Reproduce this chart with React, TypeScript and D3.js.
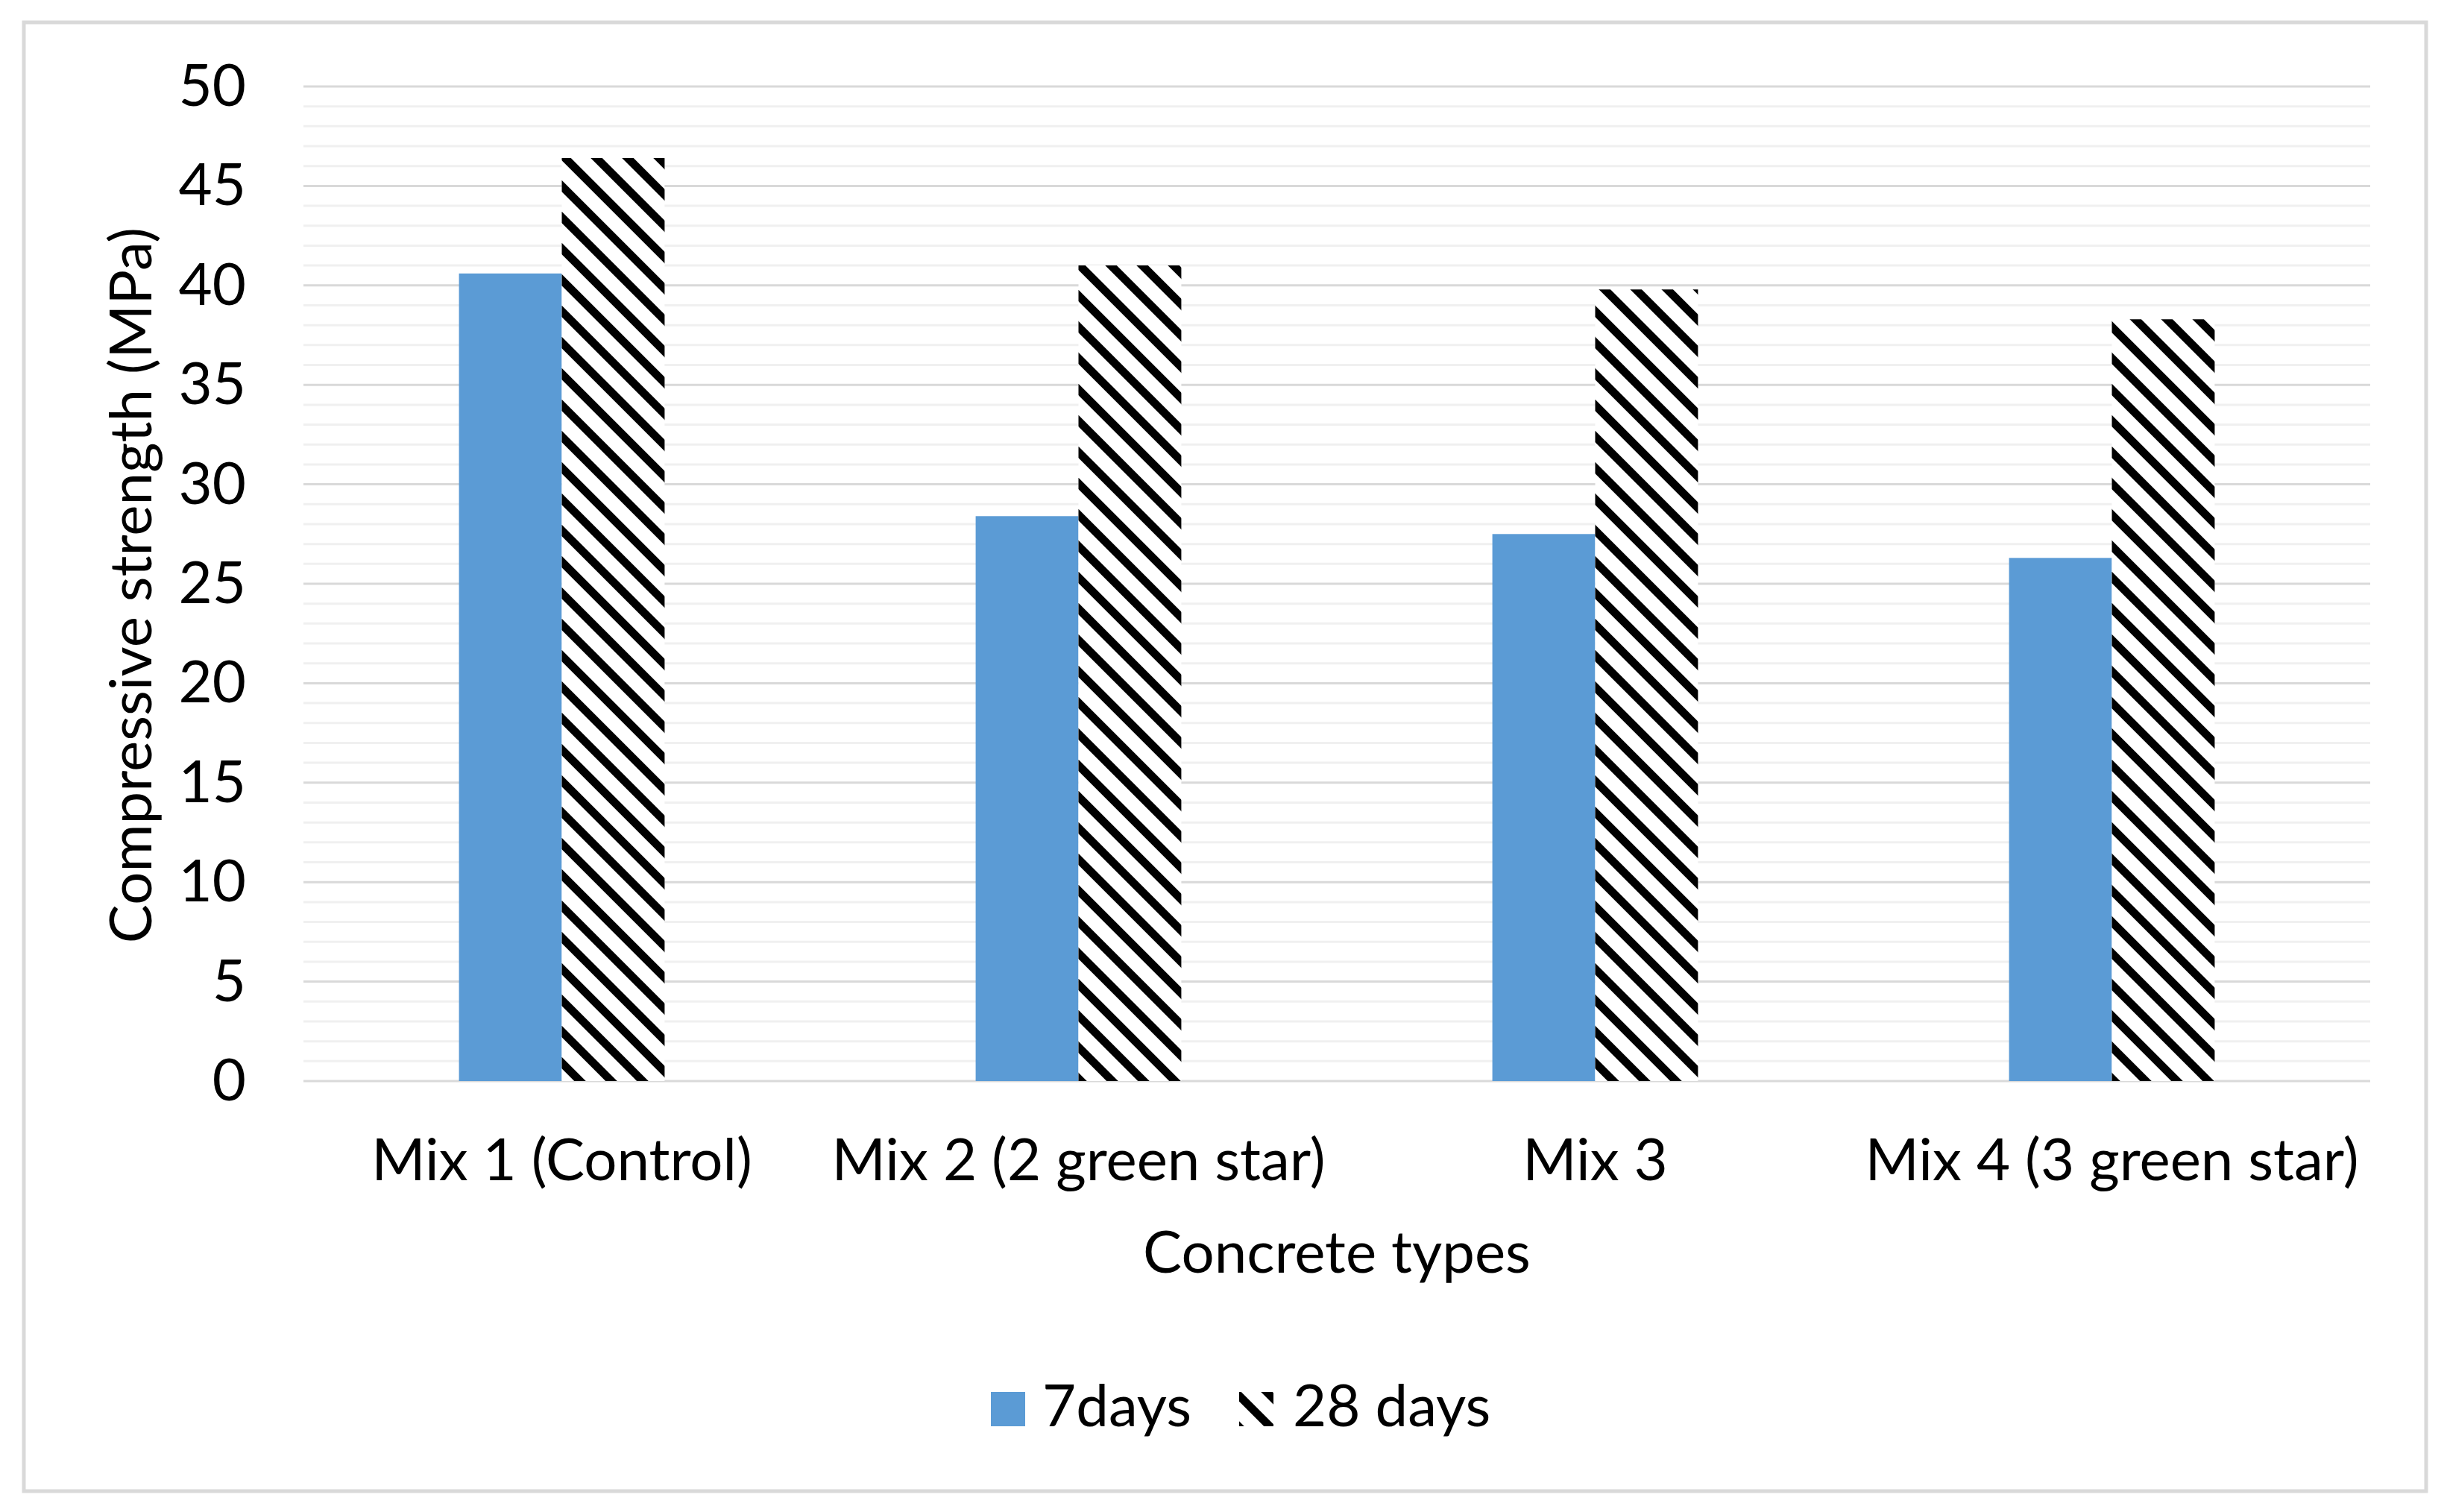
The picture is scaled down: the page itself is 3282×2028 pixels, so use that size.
import React from "react";
import * as d3 from "d3";

const categories = ["Mix 1 (Control)", "Mix 2 (2 green star)", "Mix 3", "Mix 4 (3 green star)"];
const seriesNames = ["7days", "28 days"];
const values7days = [40.6, 28.4, 27.5, 26.3];
const values28days = [46.4, 41.0, 39.8, 38.3];
const yMajorTicks = [0, 5, 10, 15, 20, 25, 30, 35, 40, 45, 50];
const yTitle = "Compressive strength (MPa)";
const xTitle = "Concrete types";

const W = 3282;
const H = 2028;
const FONT = "Lato, 'Open Sans', sans-serif";
const FS = 78;
const BLUE = "#5b9bd5";
const PERIOD = 42;
const STRIPE = 11;

function Hatch({ id, x, y, w, h }: { id: string; x: number; y: number; w: number; h: number }) {
  // diagonal stripes x - y = k * PERIOD, clipped to the rectangle
  const cMin = Math.floor((x - (y + h)) / PERIOD) - 1;
  const cMax = Math.ceil((x + w - y) / PERIOD) + 1;
  const ks = d3.range(cMin, cMax + 1);
  const y0 = y - 20;
  const y1 = y + h + 20;
  return (
    <g>
      <clipPath id={id}>
        <rect x={x} y={y} width={w} height={h} />
      </clipPath>
      <rect x={x} y={y} width={w} height={h} fill="#fff" />
      <g clipPath={`url(#${id})`}>
        {ks.map((k) => {
          const c = k * PERIOD;
          return <line key={k} x1={c + y0} y1={y0} x2={c + y1} y2={y1} stroke="#000" strokeWidth={STRIPE} />;
        })}
      </g>
    </g>
  );
}

export default function App() {
  const x0 = d3.scaleBand<string>().domain(categories).range([407, 3179]).paddingInner(0.602).paddingOuter(0.301);
  const x1 = d3.scaleBand<string>().domain(seriesNames).range([0, x0.bandwidth()]).padding(0);
  const y = d3.scaleLinear().domain([0, 50]).range([1450, 116]);
  const minorTicks = d3.range(0, 51, 1).filter((v) => v % 5 !== 0);
  const seriesValues = [values7days, values28days];

  return (
    <svg width={W} height={H} style={{ position: "absolute", left: 0, top: 0, background: "#fff" }}>
      <rect x={0} y={0} width={W} height={H} fill="#fff" />
      <rect x={32} y={30} width={3222} height={1970} fill="#fff" stroke="#d9d9d9" strokeWidth={5} />

      {minorTicks.map((t) => (
        <line key={"m" + t} x1={407} x2={3179} y1={y(t)} y2={y(t)} stroke="#f0f0f0" strokeWidth={3} />
      ))}
      {yMajorTicks.map((t) => (
        <line key={"M" + t} x1={407} x2={3179} y1={y(t)} y2={y(t)} stroke="#d9d9d9" strokeWidth={3} />
      ))}

      {categories.map((c, i) => {
        const gx = x0(c) as number;
        return (
          <g key={c}>
            {seriesNames.map((s, j) => {
              const bx = gx + (x1(s) as number);
              const by = y(seriesValues[j][i]);
              const bw = x1.bandwidth();
              const bh = y(0) - by;
              return j === 0 ? (
                <rect key={s} x={bx} y={by} width={bw} height={bh} fill={BLUE} />
              ) : (
                <Hatch key={s} id={`clip${i}`} x={bx} y={by} w={bw} h={bh} />
              );
            })}
          </g>
        );
      })}

      {yMajorTicks.map((t) => (
        <text key={"t" + t} x={330} y={y(t) + 26} textAnchor="end" fontFamily={FONT} fontSize={FS} fill="#000">
          {t}
        </text>
      ))}

      {categories.map((c) => (
        <text key={"c" + c} x={(x0(c) as number) + x0.bandwidth() / 2} y={1583} textAnchor="middle" fontFamily={FONT} fontSize={FS} fill="#000">
          {c}
        </text>
      ))}

      <text x={(407 + 3179) / 2} y={1707} textAnchor="middle" fontFamily={FONT} fontSize={FS} fill="#000">
        {xTitle}
      </text>
      <text transform={`translate(203,785) rotate(-90)`} textAnchor="middle" fontFamily={FONT} fontSize={FS} fill="#000">
        {yTitle}
      </text>

      <rect x={1329} y={1867} width={46} height={46} fill={BLUE} />
      <text x={1398} y={1913} fontFamily={FONT} fontSize={FS} fill="#000">
        {seriesNames[0]}
      </text>
      <Hatch id="clipLegend" x={1662} y={1867} w={46} h={46} />
      <text x={1734} y={1913} fontFamily={FONT} fontSize={FS} fill="#000">
        {seriesNames[1]}
      </text>
    </svg>
  );
}
